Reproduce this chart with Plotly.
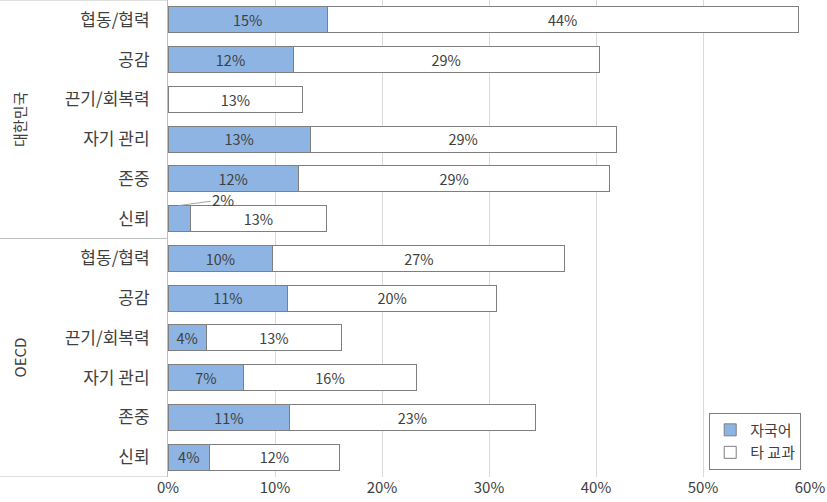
import plotly.graph_objects as go

groups = ["대한민국", "OECD"]
categories = ["협동/협력", "공감", "끈기/회복력", "자기 관리", "존중", "신뢰"]
series_names = ["자국어", "타 교과"]

kor_native = [14.9, 11.7, 0.0, 13.3, 12.2, 2.1]
kor_other = [44.0, 28.6, 12.6, 28.6, 29.1, 12.7]
oecd_native = [9.8, 11.2, 3.6, 7.1, 11.4, 3.9]
oecd_other = [27.3, 19.5, 12.6, 16.1, 22.9, 12.1]

x_ticks = [0, 10, 20, 30, 40, 50, 60]

FONT = "Noto Sans CJK KR"
TXT = "#404040"

native = kor_native + oecd_native
other = kor_other + oecd_other
labels = categories + categories
n = len(labels)
ypos = list(range(n))


def lab(v, small_outside=False):
    if v <= 0:
        return ""
    if small_outside and v < 3:
        return ""
    return f"{round(v)}%"


fig = go.Figure()
fig.add_trace(go.Bar(
    name=series_names[0], y=ypos, x=native, orientation="h",
    marker=dict(color="#8DB4E2", line=dict(color="#7F7F7F", width=1)),
    text=[lab(v, True) for v in native], textposition="inside",
    insidetextanchor="middle", textangle=0,
    textfont=dict(family=FONT, size=15, color=TXT), width=0.66,
))
fig.add_trace(go.Bar(
    name=series_names[1], y=ypos, x=other, orientation="h",
    marker=dict(color="#FFFFFF", line=dict(color="#7F7F7F", width=1)),
    text=[lab(v) for v in other], textposition="inside",
    insidetextanchor="middle", textangle=0,
    textfont=dict(family=FONT, size=15, color=TXT), width=0.66,
))

# small value label with leader line
for i, v in enumerate(native):
    if 0 < v < 3:
        fig.add_annotation(
            x=v / 2, y=ypos[i] - 0.33, xref="x", yref="y",
            text=f"{round(v)}%", showarrow=True, arrowhead=0,
            arrowcolor="#A6A6A6", arrowwidth=1, ax=44, ay=-6,
            font=dict(family=FONT, size=15, color=TXT),
        )

# group labels and separators
for g, name in enumerate(groups):
    fig.add_annotation(
        x=-0.231, xref="paper", y=g * 6 + 2.5, yref="y",
        text=name, textangle=-90, showarrow=False,
        font=dict(family=FONT, size=15, color=TXT),
        xanchor="center", yanchor="middle",
    )
for yb in [-0.5, 5.5, 11.5]:
    fig.add_shape(type="line", xref="paper", yref="y",
                  x0=-0.262, x1=0, y0=yb, y1=yb,
                  line=dict(color="#BFBFBF", width=1))

fig.update_layout(
    barmode="stack",
    width=827, height=502,
    margin=dict(l=168, r=17, t=0, b=25, autoexpand=False),
    plot_bgcolor="white", paper_bgcolor="white",
    font=dict(family=FONT, color=TXT),
    showlegend=True,
    legend=dict(
        x=0.843, y=0.135, xanchor="left", yanchor="top",
        bgcolor="white", bordercolor="#7F7F7F", borderwidth=1,
        font=dict(family=FONT, size=15, color=TXT),
        traceorder="normal", itemwidth=30, tracegroupgap=0,
    ),
    bargap=0.34,
)
fig.update_xaxes(
    range=[0, 60], tickvals=x_ticks,
    ticktext=[f"{t}%" for t in x_ticks],
    showgrid=True, gridcolor="#D9D9D9", gridwidth=1,
    zeroline=False, showline=False, automargin=False,
    tickfont=dict(family=FONT, size=15, color=TXT),
)
fig.update_yaxes(
    tickvals=ypos, ticktext=labels, range=[11.5, -0.5],
    showgrid=False, zeroline=False, automargin=False,
    showline=True, linecolor="#BFBFBF", linewidth=1,
    tickfont=dict(family=FONT, size=17, color=TXT),
    ticks="", ticklabelstandoff=14,
)

fig.write_html(
    "out.html",
    config={"displayModeBar": False},
    post_script="document.body.style.margin='0';document.body.style.overflow='hidden';",
)
